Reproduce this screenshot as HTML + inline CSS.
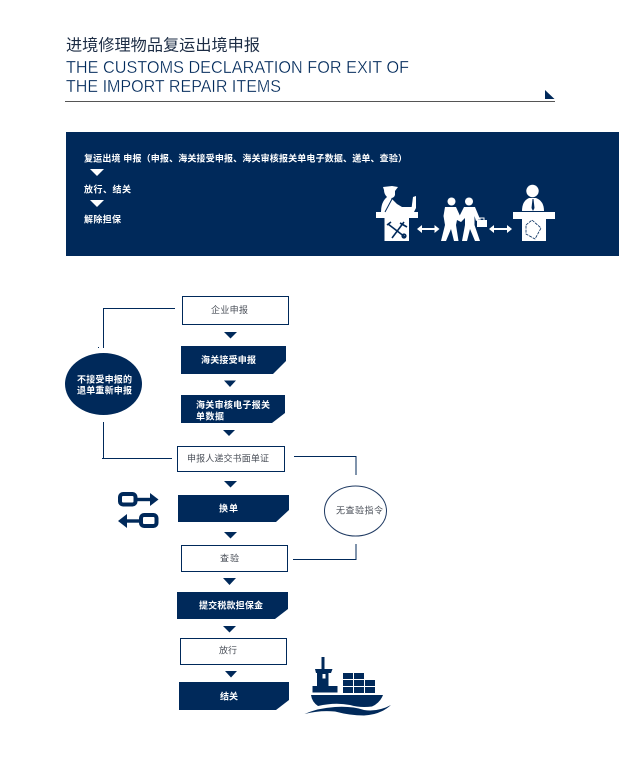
<!DOCTYPE html>
<html><head><meta charset="utf-8">
<style>
html,body{margin:0;padding:0;background:#fff;width:619px;height:776px;overflow:hidden}
svg{display:block}
text{font-family:"Liberation Sans","Noto Sans CJK SC",sans-serif}
.w{fill:#fff;font-size:9px;font-weight:700}
.g{fill:#4a4f58;font-size:9px}
.l{fill:none;stroke:#00295a;stroke-width:1}
.n{fill:#00295a}
.f{fill:#fff}
.t{fill:#00295a;font-size:17.5px;stroke:#fff;stroke-width:.3px}
</style></head><body>
<svg width="619" height="776" viewBox="0 0 619 776" xmlns="http://www.w3.org/2000/svg">
<rect width="619" height="776" fill="#fff"/>
<!-- header -->
<text x="66" y="50.5" font-size="16" fill="#1c2c44" textLength="194" lengthAdjust="spacingAndGlyphs">进境修理物品复运出境申报</text>
<text class="t" x="66" y="73" textLength="343" lengthAdjust="spacingAndGlyphs">THE CUSTOMS DECLARATION FOR EXIT OF</text>
<text class="t" x="66" y="92" textLength="215" lengthAdjust="spacingAndGlyphs">THE IMPORT REPAIR ITEMS</text>
<rect x="65" y="101" width="490" height="1" fill="#555"/>
<polygon class="n" points="545,90 554.5,99 545,99"/>
<!-- banner -->
<rect class="n" x="66" y="132" width="553" height="124"/>
<text class="w" x="84" y="161.5" textLength="323" lengthAdjust="spacing">复运出境 申报（申报、海关接受申报、海关审核报关单电子数据、递单、查验）</text>
<polygon class="f" points="90,169 104,169 97,176"/>
<text class="w" x="84" y="192.5" textLength="47" lengthAdjust="spacing">放行、结关</text>
<polygon class="f" points="90,200 104,200 97,207"/>
<text class="w" x="84" y="222.5" textLength="37" lengthAdjust="spacing">解除担保</text>
<!-- left desk -->
<rect class="f" x="376" y="212" width="42" height="6"/>
<rect class="f" x="384.5" y="218" width="24.5" height="23"/>
<path class="f" d="M383,187 L392,186 L398,187 L395,191 L395,195 Q394,198 391,198 L397,204 L402,207 L405,212 L381,212 Q381,202 387,197 Q384,194 384,190 Z"/>
<rect class="f" x="402" y="207" width="12" height="5"/>
<path class="f" d="M413,197 L416,196 L416,208 L414,212 L411,212 Z"/>
<path d="M385,212 L392,199" stroke="#00295a" stroke-width="1" fill="none"/>
<g stroke="#00295a" stroke-width="1.6" fill="none">
<path d="M388,224 L405,237"/>
<path d="M404,222 L392,238"/>
<path d="M400,223 L407,227"/>
<circle cx="404" cy="236" r="1.8"/>
<path d="M387,225 L391,222"/>
</g>
<!-- arrows -->
<g stroke="#fff" stroke-width="2" fill="#fff">
<path d="M420,229 H437"/><path d="M492,229 H510"/>
</g>
<polygon class="f" points="417,229 422,225 422,233"/>
<polygon class="f" points="439.5,229 434.5,225 434.5,233"/>
<polygon class="f" points="489,229 494,225 494,233"/>
<polygon class="f" points="512,229 507,225 507,233"/>
<!-- handshake people -->
<circle class="f" cx="451.5" cy="201.5" r="4"/>
<circle class="f" cx="469" cy="201.5" r="4"/>
<path class="f" d="M445,207 L456,207 L461,218 L463,219 L461,222 L457,220 L456,225 L458.5,241 L454,241 L451,229 L446,241 L441,241 L445,225 L443.5,216 Z"/>
<path class="f" d="M464,207 L475,207 L480,219 L476,221 L474.5,216 L474.5,225 L480,241 L475,241 L470,229 L467,241 L462,241 L465,225 L465,218 L461,222 L458,219 Z"/>
<rect class="f" x="477" y="220" width="10" height="7"/>
<path d="M480,220 V218 H484 V220" stroke="#fff" stroke-width="1" fill="none"/>
<!-- right desk -->
<rect class="f" x="513" y="212" width="42" height="7"/>
<rect class="f" x="522" y="219" width="24" height="22"/>
<circle class="f" cx="532.5" cy="191" r="6.2"/>
<path class="f" d="M522,211 Q522,201 529,198 L536,198 Q544,201 544,211 Z"/>
<path d="M532.5,199 L531.5,208 L533,211 L534.5,208 L533.5,199" fill="#00295a"/>
<path d="M526,225 L532,220 L541,228 L535,239 L526,234 Z" fill="none" stroke="#00295a" stroke-width="0.8" stroke-dasharray="3 1"/>
<!-- flow boxes -->
<rect class="l" x="182.5" y="296.5" width="106" height="28"/>
<text class="g" x="211" y="313" textLength="37" lengthAdjust="spacing">企业申报</text>
<polygon class="n" points="224,332 237,332 230.5,338.5"/>
<polygon class="n" points="181,346 286,346 286,361 273,374 181,374"/>
<text class="w" x="201" y="363" textLength="55" lengthAdjust="spacing">海关接受申报</text>
<polygon class="n" points="224,380.5 236,380.5 230,387"/>
<polygon class="n" points="181,395 285,395 285,413 272,423 181,423"/>
<text class="w" x="196" y="408" textLength="74" lengthAdjust="spacing">海关审核电子报关</text>
<text class="w" x="196" y="419.5" textLength="28" lengthAdjust="spacing">单数据</text>
<polygon class="n" points="223,430 235,430 229,436"/>
<rect class="l" x="177.5" y="446.5" width="107" height="25"/>
<text class="g" x="187" y="461.5" textLength="82" lengthAdjust="spacing">申报人递交书面单证</text>
<polygon class="n" points="224,481 237,481 230.5,487.5"/>
<polygon class="n" points="178,495 289,495 289,510 276,522 178,522"/>
<text class="w" x="219" y="511.5" textLength="19" lengthAdjust="spacing">换单</text>
<polygon class="n" points="224,532 237,532 230.5,538.5"/>
<rect class="l" x="181.5" y="545.5" width="106" height="26"/>
<text class="g" x="220" y="561.5" textLength="19" lengthAdjust="spacing">查验</text>
<polygon class="n" points="223,578 236,578 229.5,585"/>
<polygon class="n" points="177,592 288,592 288,609 275,619 177,619"/>
<text class="w" x="199" y="608.5" textLength="64" lengthAdjust="spacing">提交税款担保金</text>
<polygon class="n" points="223,626 236,626 229.5,632.5"/>
<rect class="l" x="180.5" y="638.5" width="106" height="26"/>
<text class="g" x="219" y="653.5" textLength="18" lengthAdjust="spacing">放行</text>
<polygon class="n" points="225,671 237,671 231,677.5"/>
<polygon class="n" points="179,682 289,682 289,700 276,710 179,710"/>
<text class="w" x="220" y="699.5" textLength="18" lengthAdjust="spacing">结关</text>
<!-- left ellipse and connectors -->
<ellipse class="n" cx="103.5" cy="384" rx="38.5" ry="31"/>
<text class="w" x="77" y="382.5" textLength="55" lengthAdjust="spacing">不接受申报的</text>
<text class="w" x="77" y="393.5" textLength="55" lengthAdjust="spacing">退单重新申报</text>
<path class="l" d="M103.5,348 V308.5 H175"/>
<path class="l" d="M103.5,422 V458.5 H172"/>
<rect x="98" y="347" width="1" height="1" fill="#00295a"/>
<rect x="102" y="458" width="3" height="1" fill="#00295a"/>
<!-- right ellipse and connectors -->
<ellipse cx="355.5" cy="511" rx="31" ry="25" fill="#fff" stroke="#1f3a62" stroke-width="1"/>
<text class="g" x="336" y="513.5" textLength="47" lengthAdjust="spacing">无查验指令</text>
<path class="l" d="M294,456.5 H356 V475"/>
<path class="l" d="M293,559.5 H356 V544"/>
<!-- swap icon -->
<rect x="120" y="494" width="15.5" height="10.5" rx="3" fill="none" stroke="#00295a" stroke-width="4"/>
<rect x="141" y="515" width="15.5" height="11" rx="3" fill="none" stroke="#00295a" stroke-width="4"/>
<path d="M137,499.5 H151" stroke="#00295a" stroke-width="3.4"/>
<polygon class="n" points="150,493 158.5,499.5 150,506"/>
<path d="M126,521 H140" stroke="#00295a" stroke-width="3.4"/>
<polygon class="n" points="127,514 118,521 127,528"/>
<!-- ship -->
<rect class="n" x="321.5" y="657" width="3" height="13"/>
<polygon class="n" points="315,669 332.5,669 331,673 328.5,673 328.5,686 337.5,686 337.5,692.5 312.5,692.5 312.5,686 317,686 317,673 316,673"/>
<rect x="322.5" y="674" width="3" height="4.5" fill="#fff"/>
<g class="n">
<rect x="343" y="673" width="10" height="6"/><rect x="354" y="673" width="10" height="6"/>
<rect x="343" y="680" width="10" height="6"/><rect x="354" y="680" width="10" height="6"/><rect x="365" y="680" width="10" height="6"/>
<rect x="343" y="687" width="10" height="6"/><rect x="354" y="687" width="10" height="6"/><rect x="365" y="687" width="10" height="6"/>
</g>
<path class="n" d="M311,695 H383 Q380,703 372,706.5 Q360,708 350,705 Q335,702 318,706 Q312,702 311,695 Z"/>
<path class="n" d="M304.5,714 Q318,708 335,707 Q352,706 364,710 Q378,712 391,705 Q380,715 364,715.5 Q350,715.5 335,711.5 Q320,710 304.5,714 Z"/>
</svg>
</body></html>
